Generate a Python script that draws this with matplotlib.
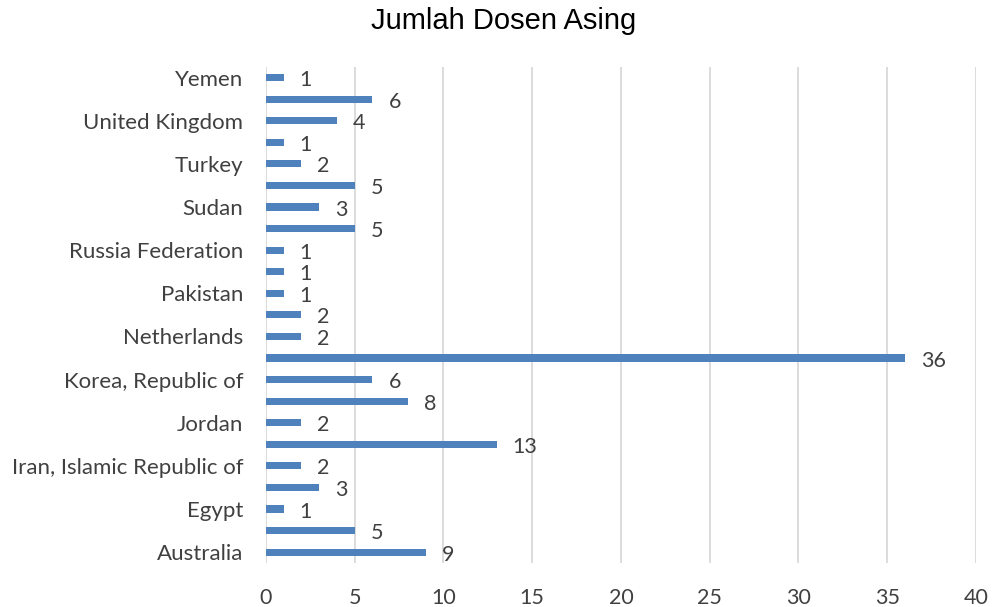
import matplotlib.pyplot as plt

# negara, dari bawah ke atas; hanya label yang ditampilkan di sumbu
countries = ["Australia", "", "Egypt", "", "Iran, Islamic Republic of", "",
             "Jordan", "", "Korea, Republic of", "", "Netherlands", "",
             "Pakistan", "", "Russia Federation", "", "Sudan", "",
             "Turkey", "", "United Kingdom", "", "Yemen"]
dosen = [9, 5, 1, 3, 2, 13, 2, 8, 6, 36, 2, 2, 1, 1, 1, 5, 3, 5, 2, 1, 4, 6, 1]
xticks = [0, 5, 10, 15, 20, 25, 30, 35, 40]

plt.rcParams['font.family'] = ['Lato', 'DejaVu Sans']

fig = plt.figure(figsize=(9.95, 6.07), dpi=100)
ax = fig.add_axes([0.2673, 0.0725, 0.7136, 0.8175])

pos = range(len(dosen))
bars = ax.barh(pos, dosen, height=0.33, color='#4f81bd', zorder=3)
for b, v in zip(bars, dosen):
    ax.text(v + 0.9, b.get_y() + b.get_height() / 2 - 0.12, str(v),
            va='center', ha='left', fontsize=15.5, color='#404040')

ax.set_xlim(0, 40)
ax.set_ylim(-0.5, len(dosen) - 0.5)
ax.set_xticks(xticks)
ax.set_yticks(list(pos))
ax.set_yticklabels(countries)
ax.tick_params(axis='both', length=0, labelsize=15.5, labelcolor='#404040')
ax.tick_params(axis='x', pad=18)
ax.tick_params(axis='y', pad=16.5, labelsize=16)
ax.grid(axis='x', color='#d9d9d9', linewidth=1.3, zorder=0)
for s in ax.spines.values():
    s.set_visible(False)

fig.text(0.506, 0.966, "Jumlah Dosen Asing", ha='center', va='center',
         fontsize=21, family='Liberation Sans', color='black')

fig.savefig("out.png")
